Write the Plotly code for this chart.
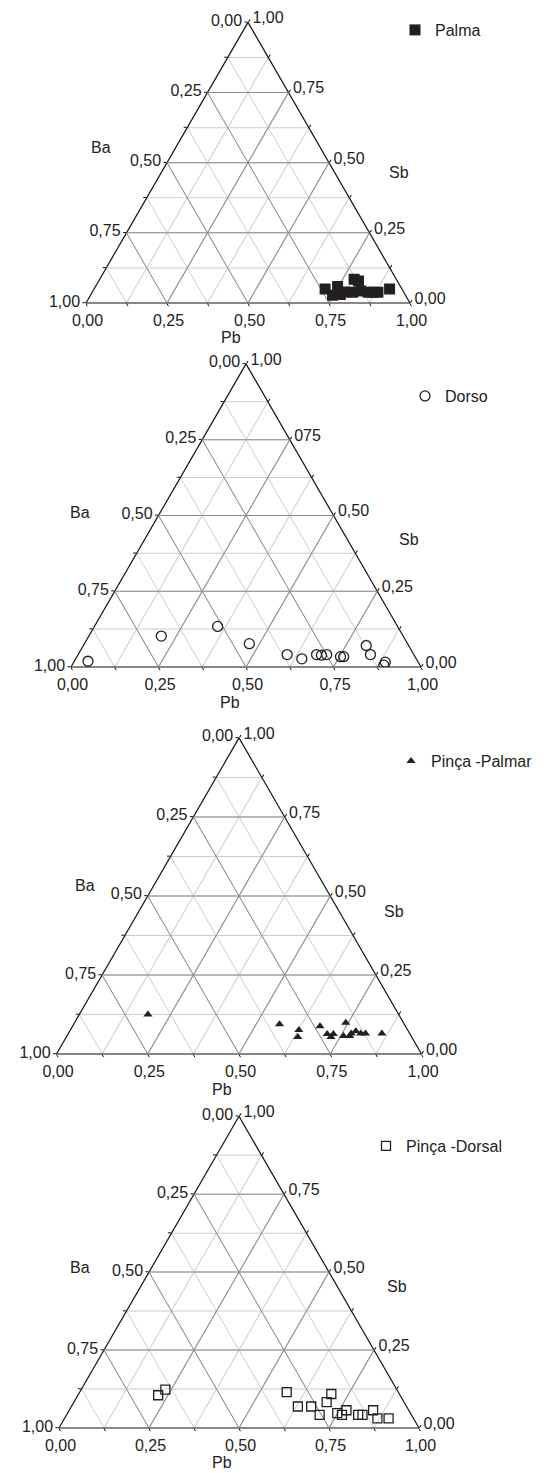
import math
import plotly.graph_objects as go

# Pb and Sb fractions (Ba is the remainder)
palma_pb = [0.713, 0.747, 0.747, 0.770, 0.780, 0.785, 0.802, 0.804, 0.827, 0.852, 0.868, 0.882, 0.912]
palma_sb = [0.050, 0.028, 0.059, 0.030, 0.039, 0.085, 0.078, 0.038, 0.043, 0.038, 0.038, 0.038, 0.050]

dorso_pb = [0.039, 0.207, 0.352, 0.471, 0.597, 0.646, 0.681, 0.696, 0.710, 0.753, 0.762, 0.808, 0.835, 0.890, 0.891]
dorso_sb = [0.019, 0.102, 0.134, 0.077, 0.041, 0.027, 0.041, 0.039, 0.041, 0.034, 0.034, 0.071, 0.041, 0.016, 0.006]

palmar_pb = [0.188, 0.564, 0.626, 0.634, 0.678, 0.710, 0.727, 0.725, 0.743, 0.758, 0.775, 0.775, 0.784, 0.801, 0.814, 0.859]
palmar_sb = [0.125, 0.094, 0.076, 0.054, 0.088, 0.063, 0.063, 0.054, 0.099, 0.057, 0.057, 0.065, 0.072, 0.065, 0.065, 0.065]

dorsal_pb = [0.223, 0.234, 0.575, 0.629, 0.666, 0.703, 0.702, 0.702, 0.749, 0.770, 0.765, 0.810, 0.822, 0.844, 0.869, 0.900]
dorsal_sb = [0.105, 0.123, 0.115, 0.069, 0.069, 0.042, 0.083, 0.109, 0.048, 0.057, 0.042, 0.042, 0.042, 0.057, 0.031, 0.031]

tick_vals = [0, 0.125, 0.25, 0.375, 0.5, 0.625, 0.75, 0.875, 1]
major_vals = [0.25, 0.5, 0.75]
# each edge is labelled with the complementary component
edge_text = ["1,00", "", "0,75", "", "0,50", "", "0,25", "", "0,00"]
edge_text_typo = ["1,00", "", "075", "", "0,50", "", "0,25", "", "0,00"]

W, H = 547, 1473
INK = "#231f20"
TXT = "#222222"
FONT = "Liberation Sans, Arial, sans-serif"

panels = [
    dict(name="Palma", pb=palma_pb, sb=palma_sb,
         marker=dict(symbol="square", size=11, color=INK),
         cx=248, base=303, w=324, right_text=edge_text,
         leg=(415, 30), ba=(101, 148), sbl=(399, 172), pbl=(231, 338)),
    dict(name="Dorso", pb=dorso_pb, sb=dorso_sb,
         marker=dict(symbol="circle-open", size=10, color=INK, line=dict(width=1.3)),
         cx=246, base=667, w=350, right_text=edge_text_typo,
         leg=(425, 396), ba=(80, 512), sbl=(409, 539), pbl=(230, 702)),
    dict(name="Pinça -Palmar", pb=palmar_pb, sb=palmar_sb,
         marker=dict(symbol="triangle-up", size=8, color=INK),
         cx=239, base=1054, w=365, right_text=edge_text,
         leg=(411, 761), ba=(85, 885), sbl=(394, 912), pbl=(222, 1089)),
    dict(name="Pinça -Dorsal", pb=dorsal_pb, sb=dorsal_sb,
         marker=dict(symbol="square-open", size=9, color=INK, line=dict(width=1.3)),
         cx=239, base=1428, w=360, right_text=edge_text,
         leg=(386, 1146), ba=(80, 1267), sbl=(397, 1286), pbl=(222, 1462)),
]


def base_axis(text):
    # outline, ticks, labels and the light 0.125 grid
    return dict(tickmode="array", tickvals=tick_vals, ticktext=text,
                ticks="outside", ticklen=3, tickcolor="#111", tickwidth=1,
                showline=True, linecolor="#111", linewidth=1.2,
                showgrid=True, gridcolor="#cccccc", gridwidth=1,
                tickfont=dict(size=16, color=TXT, family=FONT), title=dict(text=""))


def major_axis():
    # darker 0.25 grid drawn on the overlay that carries the data
    return dict(tickmode="array", tickvals=major_vals, ticks="",
                showticklabels=False, showline=False,
                showgrid=True, gridcolor="#8c8c8c", gridwidth=1,
                layer="below traces", title=dict(text=""))


fig = go.Figure()
annotations = []
layout = {}

for i, p in enumerate(panels):
    h = p["w"] * math.sqrt(3) / 2
    dom = dict(x=[(p["cx"] - p["w"] / 2) / W, (p["cx"] + p["w"] / 2) / W],
               y=[1 - p["base"] / H, 1 - (p["base"] - h) / H])

    k1 = 2 * i + 1
    n1 = "ternary" if k1 == 1 else f"ternary{k1}"
    n2 = f"ternary{k1 + 1}"
    layout[n1] = dict(domain=dom, bgcolor="white", sum=1,
                      aaxis=base_axis(edge_text), baxis=base_axis(edge_text),
                      caxis=base_axis(p["right_text"]))
    layout[n2] = dict(domain=dom, bgcolor="rgba(0,0,0,0)", sum=1,
                      aaxis=major_axis(), baxis=major_axis(), caxis=major_axis())

    # empty trace so the base subplot gets drawn
    fig.add_trace(go.Scatterternary(a=[], c=[], mode="markers", subplot=n1,
                                    showlegend=False, hoverinfo="skip"))

    leg = "legend" if i == 0 else f"legend{i + 1}"
    fig.add_trace(go.Scatterternary(
        a=p["sb"], c=p["pb"], mode="markers", name=p["name"],
        marker=p["marker"], subplot=n2, legend=leg, showlegend=True,
    ))
    lx, ly = p["leg"]
    layout[leg] = dict(x=(lx - 20) / W, y=1 - ly / H, xanchor="left", yanchor="middle",
                       bgcolor="rgba(0,0,0,0)", borderwidth=0,
                       font=dict(size=16, color=TXT, family=FONT))

    for txt, (tx, ty) in (("Ba", p["ba"]), ("Sb", p["sbl"]), ("Pb", p["pbl"])):
        annotations.append(dict(text=txt, x=tx / W, y=1 - ty / H, xref="paper", yref="paper",
                                showarrow=False, xanchor="center", yanchor="middle",
                                font=dict(size=16, color=TXT, family=FONT)))

fig.update_layout(
    width=W, height=H,
    margin=dict(l=0, r=0, t=0, b=0),
    paper_bgcolor="white",
    font=dict(family=FONT, color=TXT),
    annotations=annotations,
    **layout,
)

# drop the default page margin so the figure sits at the window's corner
fig.write_html("out.html", config={"displayModeBar": False},
               post_script="document.body.style.margin='0';")
